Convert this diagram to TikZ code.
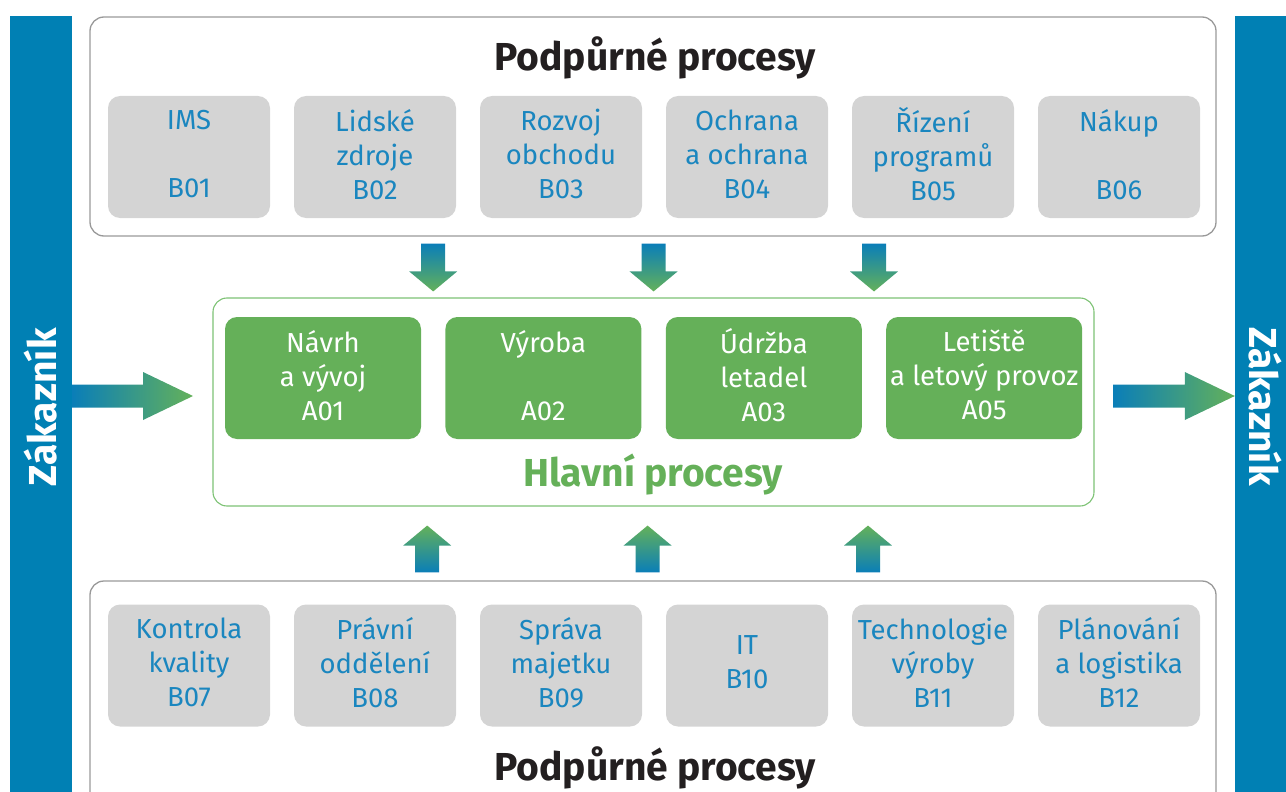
\documentclass[tikz,border=0pt]{standalone}
\usepackage{fontspec}
\setmainfont{Fira Sans}
\usetikzlibrary{calc, positioning}
\definecolor{barblue}{HTML}{0080B4}
\definecolor{boxgray}{HTML}{D4D4D4}
\definecolor{procblue}{HTML}{1A86BF}
\definecolor{procgreen}{HTML}{65B059}
\definecolor{framegreen}{HTML}{7DC274}
\definecolor{framegray}{HTML}{999999}
\definecolor{titledark}{HTML}{231F20}
\definecolor{arrblue}{HTML}{0A7EB8}
\definecolor{arrgreen}{HTML}{64B15A}
\tikzset{
  % customer side bar
  custbar/.style={
    fill=barblue
    , inner sep=0pt
    , minimum width=62pt
  },
  % bar caption
  custtext/.style={
    text=white
    , font=\fontsize{39}{46}\selectfont\bfseries
  },
  % outer frame of process groups
  frame/.style={
    draw=framegray
    , line width=1.3pt
    , rounded corners=14pt
    , inner sep=0pt
  },
  % support process node style
  supbox/.style={
    fill=boxgray
    , text=procblue
    , rounded corners=12pt
    , minimum width=162pt
    , minimum height=122pt
    , inner sep=0pt
    , align=center
    , font=\fontsize{27.5}{34}\selectfont
    , execute at end node={\rule[-6pt]{0pt}{6pt}}
  },
  % main process node style
  mainbox/.style={
    supbox
    , fill=procgreen
    , text=white
    , minimum width=196pt
  },
  grouptitle/.style={
    font=\fontsize{39}{46}\selectfont\bfseries
    , text=titledark
  },
  % gradient arrow styles
  harr/.style={left color=arrblue, right color=arrgreen},
  darr/.style={top color=arrblue, bottom color=arrgreen},
  uarr/.style={top color=arrgreen, bottom color=arrblue},
}
% block arrows: start, tip
\newcommand{\hblock}[2]{%
  \shade[harr] let \p1=(#1), \p2=(#2) in
    (\x1,\y1+11.5pt) -- (\x2-50pt,\y1+11.5pt) -- (\x2-50pt,\y1+24pt)
    -- (\x2,\y1) -- (\x2-50pt,\y1-24pt) -- (\x2-50pt,\y1-11.5pt)
    -- (\x1,\y1-11.5pt) -- cycle;}
\newcommand{\dblock}[2]{%
  \shade[darr] let \p1=(#1), \p2=(#2) in
    (\x1-12pt,\y1) -- (\x1+12pt,\y1) -- (\x1+12pt,\y2+20pt) -- (\x1+24pt,\y2+20pt)
    -- (\x1,\y2) -- (\x1-24pt,\y2+20pt) -- (\x1-12pt,\y2+20pt) -- cycle;}
\newcommand{\ublock}[2]{%
  \shade[uarr] let \p1=(#1), \p2=(#2) in
    (\x1-12pt,\y1) -- (\x1+12pt,\y1) -- (\x1+12pt,\y2-20pt) -- (\x1+24pt,\y2-20pt)
    -- (\x1,\y2) -- (\x1-24pt,\y2-20pt) -- (\x1-12pt,\y2-20pt) -- cycle;}
\begin{document}
\begin{tikzpicture}[x=1pt, y=-1pt]
  \useasboundingbox (0,0) rectangle (1286,792);
  % customer bars
  \node[custbar, minimum height=800pt] (leftbar) at (41,416) {};
  \node[custbar, minimum height=800pt, minimum width=60pt] (rightbar) at (1265,416) {};
  \node[custtext, rotate=90] (custin) at (leftbar.center |- 0,407) {Zákazník};
  \node[custtext, rotate=-90] (custout) at (rightbar.center |- 0,407) {Zákazník};

  % support processes, top
  \node[frame, minimum width=1126pt, minimum height=219pt] (topframe) at (653,126.5) {};
  \node[grouptitle] (toptitle) at (655,58) {Podpůrné procesy};
  \node[supbox] (b01) at (189,157) {IMS\\[34pt]B01};
  \node[supbox, right=23.6pt of b01] (b02) {Lidské\\zdroje\\B02};
  \node[supbox, right=23.6pt of b02] (b03) {Rozvoj\\obchodu\\B03};
  \node[supbox, right=23.6pt of b03] (b04) {Ochrana\\a ochrana\\B04};
  \node[supbox, right=23.6pt of b04] (b05) {Řízení\\programů\\B05};
  \node[supbox, right=23.6pt of b05] (b06) {Nákup\\[34pt]B06};

  % main processes
  \node[frame, draw=framegreen, line width=1.1pt, minimum width=881pt, minimum height=208pt] (mainframe) at (653.5,402) {};
  \node[mainbox] (a01) at (323,378) {Návrh\\a vývoj\\A01};
  \node[mainbox, right=24pt of a01] (a02) {Výroba\\[34pt]A02};
  \node[mainbox, right=24pt of a02] (a03) {Údržba\\letadel\\A03};
  \node[mainbox, right=24pt of a03] (a05) {Letiště\\a letový provoz\\A05};
  \node[grouptitle, text=procgreen] (maintitle) at (653,475) {Hlavní procesy};

  % support processes, bottom
  \node[frame, minimum width=1126pt, minimum height=239pt] (botframe) at (653,700.5) {};
  \node[supbox] (b07) at (189,665.5) {Kontrola\\kvality\\B07};
  \node[supbox, right=23.6pt of b07] (b08) {Právní\\oddělení\\B08};
  \node[supbox, right=23.6pt of b08] (b09) {Správa\\majetku\\B09};
  \node[supbox, right=23.6pt of b09] (b10) {IT\\B10};
  \node[supbox, right=23.6pt of b10] (b11) {Technologie\\výroby\\B11};
  \node[supbox, right=23.6pt of b11] (b12) {Plánování\\a logistika\\B12};
  \node[grouptitle] (bottitle) at (655,768) {Podpůrné procesy};

  % arrows
  \coordinate (inS) at (leftbar.east |- 0,396);
  \coordinate (inE) at (193,396);
  \coordinate (outS) at (1113,396);
  \coordinate (outE) at (rightbar.west |- 0,396);
  \hblock{inS}{inE}
  \hblock{outS}{outE}
  \foreach \l/\r [count=\i] in {a01/a02, a02/a03, a03/a05}{
    \coordinate (gap\i) at ($(\l.east)!0.5!(\r.west)$);
    \coordinate (dn\i) at (gap\i |- topframe.south);
    \coordinate (dt\i) at (gap\i |- mainframe.north);
    \dblock{$(dn\i)+(0,7)$}{$(dt\i)+(0,-6)$}
    \coordinate (up\i) at (gap\i |- botframe.north);
    \coordinate (ut\i) at (gap\i |- mainframe.south);
    \ublock{$(up\i)+(-6,-8)$}{$(ut\i)+(-6,19)$}
  }
\end{tikzpicture}
\end{document}
